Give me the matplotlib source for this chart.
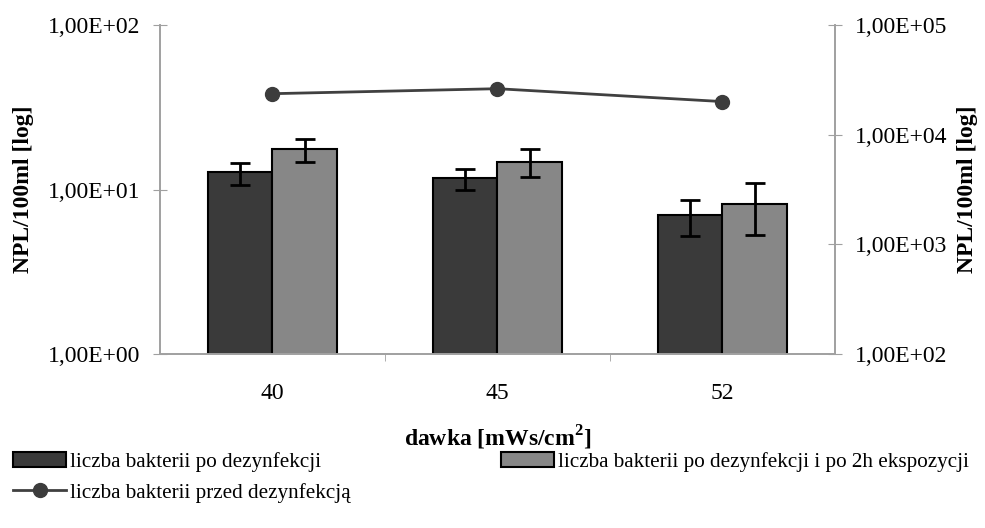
import numpy as np
import matplotlib.pyplot as plt
from matplotlib.ticker import FixedLocator, NullLocator

plt.rcParams['font.family'] = ['Liberation Serif', 'DejaVu Serif']
plt.rcParams['mathtext.fontset'] = 'custom'
plt.rcParams['mathtext.bf'] = 'Liberation Serif:bold'
plt.rcParams['mathtext.rm'] = 'Liberation Serif'

dawki = ['40', '45', '52']
po_dez = [12.7, 11.8, 7.05]
po_dez_lo = [10.7, 10.0, 5.2]
po_dez_hi = [14.4, 13.4, 8.7]
po_2h = [17.7, 14.8, 8.2]
po_2h_lo = [14.8, 12.0, 5.3]
po_2h_hi = [20.4, 17.7, 11.0]
przed_dez = [23600, 26200, 20000]

def fmt(v):
    e = int(round(np.log10(v)))
    return '1,00E%+03d' % e

x = np.arange(len(dawki))
w = 0.286

fig = plt.figure(figsize=(9.85, 5.28), dpi=100)
ax = fig.add_axes([0.1624, 0.329, 0.6853, 0.624])
ax2 = ax.twinx()

err1 = [np.array(po_dez) - np.array(po_dez_lo), np.array(po_dez_hi) - np.array(po_dez)]
err2 = [np.array(po_2h) - np.array(po_2h_lo), np.array(po_2h_hi) - np.array(po_2h)]
b1 = ax.bar(x - w/2, po_dez, w, color='#3a3a3a', edgecolor='black', linewidth=1.5,
            yerr=err1, capsize=7, error_kw=dict(elinewidth=2, capthick=2, ecolor='black'),
            label='liczba bakterii po dezynfekcji')
b2 = ax.bar(x + w/2, po_2h, w, color='#878787', edgecolor='black', linewidth=1.5,
            yerr=err2, capsize=7, error_kw=dict(elinewidth=2, capthick=2, ecolor='black'),
            label='liczba bakterii po dezynfekcji i po 2h ekspozycji')
ln, = ax2.plot(x, przed_dez, color='#404040', lw=2, marker='o', markersize=10,
               markerfacecolor='#3c3c3c', markeredgecolor='#3c3c3c',
               label='liczba bakterii przed dezynfekcją')

ax.set_yscale('log')
ax.set_ylim(1, 100)
ax2.set_yscale('log')
ax2.set_ylim(100, 1e5)
ax.set_xlim(-0.5, 2.5)

ax.yaxis.set_major_locator(FixedLocator([1, 10, 100]))
ax.yaxis.set_minor_locator(NullLocator())
ax.set_yticklabels([fmt(v) for v in [1, 10, 100]])
ax2.yaxis.set_major_locator(FixedLocator([1e2, 1e3, 1e4, 1e5]))
ax2.yaxis.set_minor_locator(NullLocator())
ax2.set_yticklabels([fmt(v) for v in [1e2, 1e3, 1e4, 1e5]])

ax.set_xticks(x)
ax.set_xticklabels(dawki)
ax.set_xticks([0.5, 1.5], minor=True)
ax.tick_params(axis='x', which='major', length=0, labelsize=17, pad=21)
ax.tick_params(axis='x', which='minor', length=5, color='#a0a0a0', direction='out')
ax.tick_params(axis='y', labelsize=17, direction='inout', length=10, color='#a0a0a0', pad=9)
ax2.tick_params(axis='y', labelsize=17, direction='inout', length=10, color='#a0a0a0', pad=9)

for a in (ax, ax2):
    a.spines['top'].set_visible(False)
    for s in ('left', 'right', 'bottom'):
        a.spines[s].set_color('#a0a0a0')
        a.spines[s].set_linewidth(1.2)

ax.set_ylabel('NPL/100ml [log]', fontsize=17, fontweight='bold', labelpad=10)
ax2.set_ylabel('NPL/100ml [log]', fontsize=17, fontweight='bold', labelpad=7)
ax.set_xlabel('dawka [mWs/cm$^{\\mathbf{2}}$]', fontsize=17, fontweight='bold', labelpad=14)

fig.legend([b1, ln, b2], [b1.get_label(), ln.get_label(), b2.get_label()],
           loc='upper left', bbox_to_anchor=(0.005, 0.16), ncol=2, frameon=False,
           fontsize=15.2, handlelength=2.5, handleheight=0.75, handletextpad=0.2,
           columnspacing=7.1, labelspacing=0.5, borderaxespad=0)

fig.savefig('out.png', dpi=100)
